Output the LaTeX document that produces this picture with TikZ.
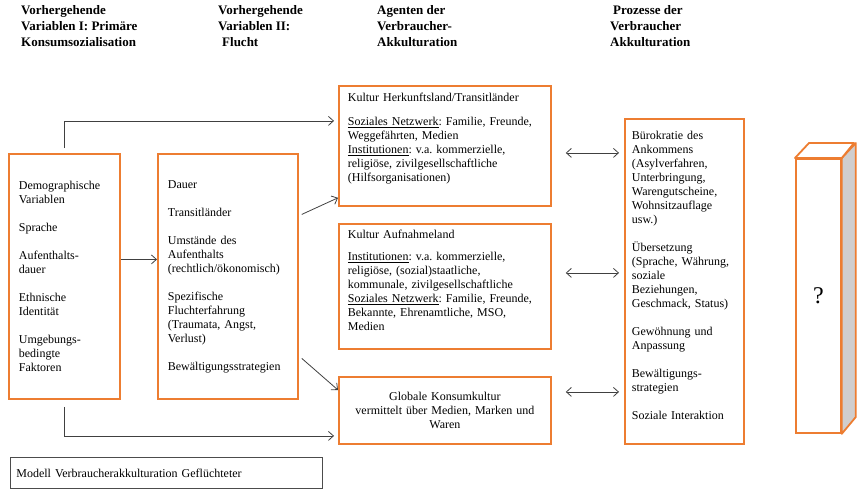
\documentclass[tikz,border=0pt]{standalone}
\usepackage{fontspec}
\setmainfont{Liberation Serif}
\usetikzlibrary{arrows.meta,positioning}
\tikzset{>={Straight Barb[length=5pt,width=9pt]}}
\definecolor{boxorange}{RGB}{237,125,49}
\definecolor{sidegrey}{RGB}{208,206,206}
\definecolor{linegrey}{RGB}{64,64,64}
\newcommand{\untenluft}[1]{\rule[-#1]{0pt}{#1}}
\frenchspacing

\begin{document}
\begin{tikzpicture}[x=1pt,y=-1pt,
    kasten/.style={draw=boxorange,line width=1.8pt,anchor=north west,align=left,inner xsep=10pt,font=\fontsize{12}{14}\selectfont},
    kopf/.style={anchor=north west,align=left,inner sep=0pt,font=\fontsize{13}{16}\selectfont\bfseries},
    pfeil/.style={->,draw=linegrey,line width=0.8pt},
    doppel/.style={<->,draw=linegrey,line width=0.8pt,shorten <=14pt,shorten >=5pt}]
  \useasboundingbox (0,0) rectangle (859,490);
  \node[kopf] (kopfa) at (21,5) {Vorhergehende\\Variablen I: Primäre\\Konsumsozialisation};
  \node[kopf] (kopfb) at (218,5) {Vorhergehende\\Variablen II:\\\hspace*{4pt}Flucht};
  \node[kopf] (kopfc) at (377,5) {Agenten der\\Verbraucher-\\Akkulturation};
  \node[kopf] (kopfd) at (610,5) {\hspace*{3pt}Prozesse der\\Verbraucher\\Akkulturation};
  \node[kasten,text width=91pt,minimum height=245pt] (demo) at (8,153)
    {Demographische\\Variablen\\[14pt]Sprache\\[14pt]Aufenthalts-\\dauer\\[14pt]Ethnische\\Identität\\[14pt]Umgebungs-\\bedingte\\Faktoren};
  \node[kasten,text width=120pt,minimum height=245pt] (flucht) at (157,153)
    {Dauer\\[14pt]Transitländer\\[14pt]Umstände des\\Aufenthalts\\(rechtlich/ökonomisch)\\[14pt]Spezifische\\Fluchterfahrung\\(Traumata, Angst,\\Verlust)\\[14pt]Bewältigungsstrategien};
  \node[kasten,inner xsep=9pt,text width=194pt,minimum height=120pt] (herk) at (338,85)
    {Kultur Herkunftsland/Transitländer\\[10pt]\underline{Soziales Netzwerk}: Familie, Freunde,\\Weggefährten, Medien\\\underline{Institutionen}: v.a. kommerzielle,\\religiöse, zivilgesellschaftliche\\(Hilfsorganisationen)\untenluft{17pt}};
  \node[kasten,inner xsep=9pt,text width=194pt,minimum height=125pt] (aufn) at (338,223)
    {Kultur Aufnahmeland\\[8pt]\underline{Institutionen}: v.a. kommerzielle,\\religiöse, (sozial)staatliche,\\kommunale, zivilgesellschaftliche\\\underline{Soziales Netzwerk}: Familie, Freunde,\\Bekannte, Ehrenamtliche, MSO,\\Medien\untenluft{12pt}};
  \node[kasten,align=center,text width=192pt,minimum height=67pt] (glob) at (338,376)
    {Globale Konsumkultur\\vermittelt über Medien, Marken und\\Waren};
  \node[kasten,inner xsep=7pt,text width=105pt,minimum height=325pt] (proz) at (624,118)
    {Bürokratie des\\Ankommens\\(Asylverfahren,\\Unterbringung,\\Warengutscheine,\\Wohnsitzauflage\\usw.)\\[14pt]Übersetzung\\(Sprache, Währung,\\soziale\\Beziehungen,\\Geschmack, Status)\\[14pt]Gewöhnung und\\Anpassung\\[14pt]Bewältigungs-\\strategien\\[14pt]Soziale Interaktion\untenluft{13pt}};
  \node[draw=boxorange,line width=1.8pt,anchor=north west,minimum width=45pt,minimum height=274pt,font=\fontsize{24}{28}\selectfont] (frage) at (795,158) {?};
  \filldraw[fill=sidegrey,draw=boxorange,line width=1.8pt,line join=round] (frage.north east) -- ++(14,-15) -- ++(0,274) -- (frage.south east) -- cycle;
  \filldraw[fill=white,draw=boxorange,line width=1.8pt,line join=round] (frage.north west) -- ++(14,-15) -- ++(45,0) -- (frage.north east) -- cycle;
  \node[draw=black!70,line width=0.8pt,anchor=north west,align=left,inner xsep=6pt,text width=300pt,minimum height=31pt,font=\fontsize{12}{14}\selectfont] (legende) at (10,457)
    {Modell Verbraucherakkulturation Geflüchteter};
  \draw[pfeil,shorten <=5pt,shorten >=4pt] (demo.north) |- ([yshift=25pt]herk.west);
  \draw[pfeil,shorten <=7pt,shorten >=4pt] (demo.south) |- ([yshift=-25.5pt]glob.west);
  \draw[pfeil] ([yshift=17pt]demo.east) -- ([yshift=17pt]flucht.west);
  \draw[pfeil] ([shift={(3pt,62pt)}]flucht.east) -- ([yshift=9pt]herk.south west);
  \draw[pfeil] ([shift={(3pt,-82pt)}]flucht.east) -- ([yshift=-14pt]glob.north west);
  \coordinate (ha) at (herk.east -| proz.west);
  \coordinate (hb) at (aufn.east -| proz.west);
  \coordinate (hc) at (glob.east -| proz.west);
  \draw[doppel] ([yshift=-7pt]herk.east) -- ([yshift=-7pt]ha);
  \draw[doppel] ([yshift=13.5pt]aufn.east) -- ([yshift=13.5pt]hb);
  \draw[doppel] ([yshift=18.5pt]glob.east) -- ([yshift=18.5pt]hc);
\end{tikzpicture}
\end{document}
